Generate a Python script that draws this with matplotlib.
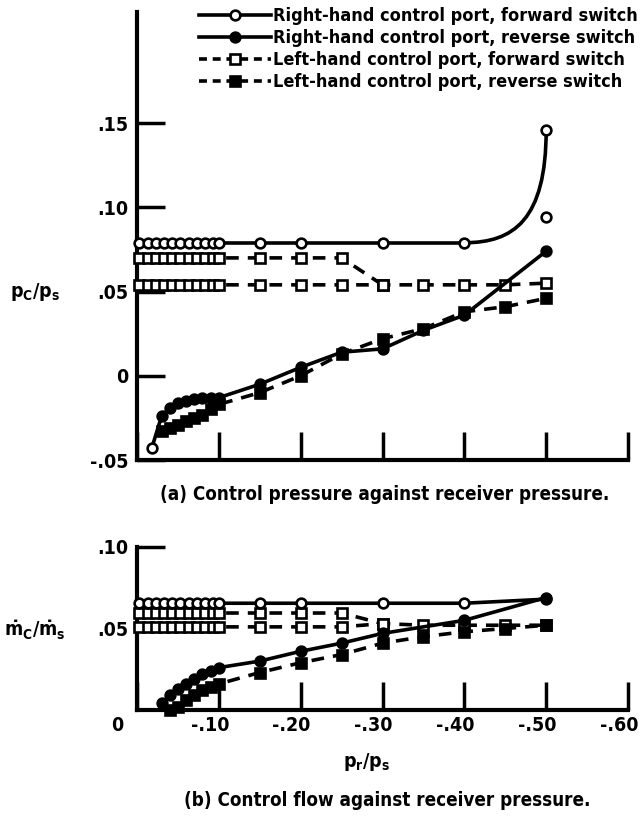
import matplotlib
matplotlib.use("Agg")
import matplotlib.pyplot as plt
from matplotlib.lines import Line2D
from matplotlib.path import Path
from matplotlib.patches import PathPatch
from matplotlib.transforms import ScaledTranslation

plt.rcParams['font.family'] = ['DejaVu Sans']
plt.rcParams['font.weight'] = 'bold'
plt.rcParams['font.stretch'] = 'condensed'
plt.rcParams['mathtext.fontset'] = 'dejavusans'

# ---------------- data (x = p_r/p_s, negative) ----------------
cluster_x = [-0.003, -0.013, -0.023, -0.033, -0.043, -0.053, -0.063, -0.073, -0.083, -0.093, -0.10]

# (a) control pressure p_c/p_s
a_rhf_x = cluster_x + [-0.15, -0.20, -0.30, -0.40]
a_rhf_y = [0.079, 0.079, 0.079, 0.079, 0.079, 0.079, 0.079, 0.079, 0.079, 0.079, 0.079,
           0.079, 0.079, 0.079, 0.079]
a_rhf_end_x = [-0.50]
a_rhf_end_y = [0.146]
a_rhf_extra_x = [-0.50]
a_rhf_extra_y = [0.094]

a_rhr_x = [-0.018, -0.03, -0.04, -0.05, -0.06, -0.07, -0.08, -0.09, -0.10,
           -0.15, -0.20, -0.25, -0.30, -0.35, -0.40, -0.50]
a_rhr_y = [-0.043, -0.024, -0.019, -0.016, -0.015, -0.014, -0.013, -0.013, -0.013,
           -0.005, 0.005, 0.014, 0.016, 0.027, 0.036, 0.074]

a_lhf1_x = cluster_x + [-0.15, -0.20, -0.25, -0.30]
a_lhf1_y = [0.070, 0.070, 0.070, 0.070, 0.070, 0.070, 0.070, 0.070, 0.070, 0.070, 0.070,
            0.070, 0.070, 0.070, 0.054]
a_lhf2_x = cluster_x + [-0.15, -0.20, -0.25, -0.30, -0.35, -0.40, -0.45, -0.50]
a_lhf2_y = [0.054, 0.054, 0.054, 0.054, 0.054, 0.054, 0.054, 0.054, 0.054, 0.054, 0.054,
            0.054, 0.054, 0.054, 0.054, 0.054, 0.054, 0.054, 0.055]

a_lhr_x = [-0.03, -0.04, -0.05, -0.06, -0.07, -0.08, -0.09, -0.10,
           -0.15, -0.20, -0.25, -0.30, -0.35, -0.40, -0.45, -0.50]
a_lhr_y = [-0.033, -0.031, -0.029, -0.027, -0.025, -0.023, -0.020, -0.017,
           -0.010, 0.000, 0.013, 0.022, 0.028, 0.038, 0.041, 0.046]

# (b) control flow mdot_c/mdot_s
b_rhf_x = cluster_x + [-0.15, -0.20, -0.30, -0.40, -0.50]
b_rhf_y = [0.0655, 0.0655, 0.0655, 0.0655, 0.0655, 0.0655, 0.0655, 0.0655, 0.0655, 0.0655, 0.0655,
           0.0655, 0.0655, 0.0655, 0.0655, 0.068]

b_rhr_x = [-0.03, -0.04, -0.05, -0.06, -0.07, -0.08, -0.09, -0.10,
           -0.15, -0.20, -0.25, -0.30, -0.40, -0.50]
b_rhr_y = [0.004, 0.009, 0.013, 0.016, 0.019, 0.022, 0.024, 0.026,
           0.030, 0.036, 0.041, 0.047, 0.055, 0.069]

b_lhf1_x = cluster_x + [-0.15, -0.20, -0.25, -0.30]
b_lhf1_y = [0.0595, 0.0595, 0.0595, 0.0595, 0.0595, 0.0595, 0.0595, 0.0595, 0.0595, 0.0595, 0.0595,
            0.0595, 0.0595, 0.0595, 0.053]
b_lhf2_x = cluster_x + [-0.15, -0.20, -0.25, -0.30, -0.35, -0.40, -0.45, -0.50]
b_lhf2_y = [0.051, 0.051, 0.051, 0.051, 0.051, 0.051, 0.051, 0.051, 0.051, 0.051, 0.051,
            0.051, 0.051, 0.051, 0.053, 0.052, 0.052, 0.052, 0.052]

b_lhr_x = [-0.04, -0.05, -0.06, -0.07, -0.08, -0.09, -0.10,
           -0.15, -0.20, -0.25, -0.30, -0.35, -0.40, -0.45, -0.50]
b_lhr_y = [0.000, 0.002, 0.006, 0.009, 0.012, 0.014, 0.016,
           0.023, 0.029, 0.034, 0.041, 0.045, 0.048, 0.050, 0.052]

x_ticks = [0, -0.1, -0.2, -0.3, -0.4, -0.5, -0.6]
x_ticklabels = ['0', '-.10', '-.20', '-.30', '-.40', '-.50', '-.60']
a_yticks = [0.15, 0.10, 0.05, 0.0, -0.05]
a_yticklabels = ['.15', '.10', '.05', '0', '-.05']
b_yticks = [0.10, 0.05]
b_yticklabels = ['.10', '.05']

labels = ['Right-hand control port, forward switch',
          'Right-hand control port, reverse switch',
          'Left-hand control port, forward switch',
          'Left-hand control port, reverse switch']

# ---------------- styles ----------------
LW = 2.6
MS = 7
MEW = 1.9
DASH = (3.5, 2.5)

W, H = 641, 823
fig = plt.figure(figsize=(W / 100, H / 100), dpi=100)


def frac_box(x0, y0, x1, y1):
    return [x0 / W, 1 - y1 / H, (x1 - x0) / W, (y1 - y0) / H]


axa = fig.add_axes(frac_box(137, 12, 628, 460))
axb = fig.add_axes(frac_box(137, 547, 628, 710))


def style_axis(ax):
    for s in ('top', 'right'):
        ax.spines[s].set_visible(False)
    for s in ('left', 'bottom'):
        ax.spines[s].set_linewidth(3)
    ax.tick_params(axis='both', direction='in', length=20, width=2.5,
                   labelsize=14, pad=6)
    ax.set_xlim(0, -0.6)
    ax.set_xticks(x_ticks)


def solid(ax, x, y, filled, marker='o'):
    ax.plot(x, y, '-', color='black', lw=LW, marker=marker, ms=MS, mew=MEW,
            mfc='black' if filled else 'white', mec='black', zorder=3, clip_on=False)


def dashed(ax, x, y, filled, marker='s'):
    ax.plot(x, y, color='black', lw=LW, dashes=DASH, marker=marker, ms=MS, mew=MEW,
            mfc='black' if filled else 'white', mec='black', zorder=3, clip_on=False)


# ---------------- (a) ----------------
style_axis(axa)
axa.set_ylim(-0.05, 0.216)
axa.set_yticks(a_yticks)
axa.set_yticklabels(a_yticklabels)
axa.tick_params(axis='x', labelbottom=False)

# faired curve of right-hand forward switch
x0, y0 = a_rhf_x[-1], a_rhf_y[-1]
x1, y1 = a_rhf_end_x[0], a_rhf_end_y[0]
verts = [(x0, y0), (x0 + (x1 - x0) * 0.6, y0), (x1, y0 + (y1 - y0) * 0.2), (x1, y1)]
curve = Path(verts, [Path.MOVETO, Path.CURVE4, Path.CURVE4, Path.CURVE4])
axa.add_patch(PathPatch(curve, fill=False, lw=LW, ec='black', zorder=3))

dashed(axa, a_lhf1_x, a_lhf1_y, False)
dashed(axa, a_lhf2_x, a_lhf2_y, False)
solid(axa, a_rhf_x, a_rhf_y, False)
axa.plot(a_rhf_end_x + a_rhf_extra_x, a_rhf_end_y + a_rhf_extra_y, 'o', ms=MS, mew=MEW,
         mfc='white', mec='black', zorder=4)
# reverse switch, right-hand: first point drawn open
axa.plot(a_rhr_x, a_rhr_y, '-', color='black', lw=LW, zorder=3)
axa.plot(a_rhr_x[1:], a_rhr_y[1:], 'o', ms=MS, mew=MEW, mfc='black', mec='black', zorder=4)
axa.plot(a_rhr_x[:1], a_rhr_y[:1], 'o', ms=MS, mew=MEW, mfc='white', mec='black', zorder=4)
dashed(axa, a_lhr_x, a_lhr_y, True)

# legend
handles = [
    Line2D([], [], color='black', lw=LW, marker='o', ms=MS, mew=MEW, mfc='white', mec='black'),
    Line2D([], [], color='black', lw=LW, marker='o', ms=MS, mew=MEW, mfc='black', mec='black'),
    Line2D([], [], color='black', lw=LW, dashes=(2.2, 1.6), marker='s', ms=MS, mew=MEW, mfc='white', mec='black'),
    Line2D([], [], color='black', lw=LW, dashes=(2.2, 1.6), marker='s', ms=MS, mew=MEW, mfc='black', mec='black'),
]
fig.legend(handles, labels, loc='upper right', bbox_to_anchor=(638 / W, 1 - 7 / H),
           frameon=False, fontsize=13, handlelength=4.0, handletextpad=0.1,
           labelspacing=0.22, borderaxespad=0, borderpad=0)

fig.text(35 / W, 1 - 292 / H, r'$\mathbf{p_C/p_s}$', ha='center', va='center', fontsize=14)
fig.text(385 / W, 1 - 495 / H, '(a) Control pressure against receiver pressure.',
         ha='center', va='center', fontsize=13.5)

# ---------------- (b) ----------------
style_axis(axb)
axb.set_ylim(0, 0.10)
axb.set_yticks(b_yticks)
axb.set_yticklabels(b_yticklabels)
axb.set_xticklabels(x_ticklabels)
axb.tick_params(axis='x', pad=4)
for i, lab in enumerate(axb.get_xticklabels()):
    dx = -0.20 if i == 0 else -0.09
    lab.set_transform(lab.get_transform() + ScaledTranslation(dx, 0, fig.dpi_scale_trans))

dashed(axb, b_lhf1_x, b_lhf1_y, False)
dashed(axb, b_lhf2_x, b_lhf2_y, False)
solid(axb, b_rhf_x, b_rhf_y, False)
solid(axb, b_rhr_x, b_rhr_y, True)
dashed(axb, b_lhr_x, b_lhr_y, True)

fig.text(35 / W, 1 - 630 / H, r'$\mathbf{\dot{m}_C/\dot{m}_s}$', ha='center', va='center', fontsize=14)
fig.text(367 / W, 1 - 762 / H, r'$\mathbf{p_r/p_s}$', ha='center', va='center', fontsize=14)
fig.text(387 / W, 1 - 801 / H, '(b) Control flow against receiver pressure.',
         ha='center', va='center', fontsize=13.5)

fig.savefig('out.png', dpi=100)
